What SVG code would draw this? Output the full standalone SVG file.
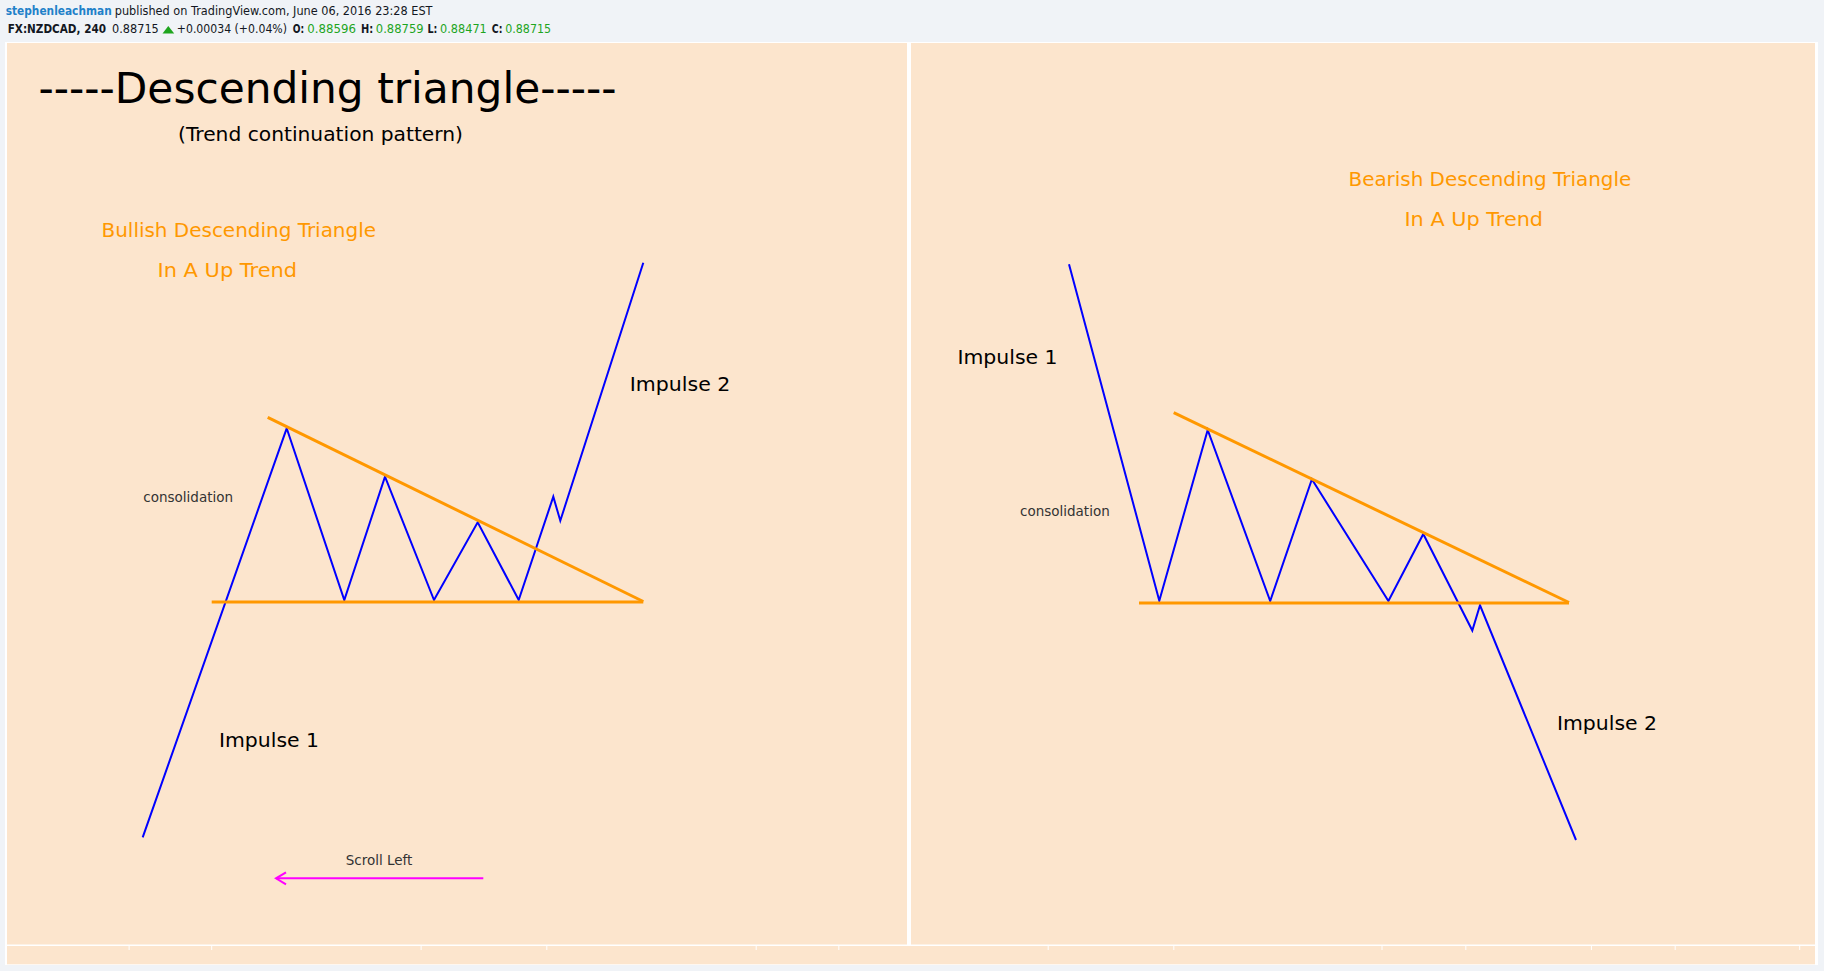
<svg xmlns="http://www.w3.org/2000/svg" width="1824" height="971" viewBox="0 0 1824 971">
<defs>
<style>
.hdr{font-family:"DejaVu Sans","Liberation Sans",sans-serif;font-size:11.5px;fill:#131722}
.b{font-weight:bold}
.g{fill:#1ea51e}
.lbl{font-family:"DejaVu Sans","Liberation Sans",sans-serif;font-size:20px;fill:#000}
.org{font-family:"DejaVu Sans","Liberation Sans",sans-serif;font-size:20px;fill:#ff9800}
.small{font-family:"DejaVu Sans","Liberation Sans",sans-serif;font-size:13.5px;fill:#333}
.price{fill:none;stroke:#0000ff;stroke-width:2;stroke-linejoin:miter}
.trend{fill:none;stroke:#ff9800;stroke-width:3}
.tick{stroke:#fff;stroke-width:1}
</style>
<marker id="openArrow" markerWidth="14" markerHeight="16" refX="11" refY="8" orient="auto" markerUnits="userSpaceOnUse">
<path d="M1,2 L11,8 L1,14" fill="none" stroke="#ff00ff" stroke-width="2"/>
</marker>
</defs>
<rect x="0" y="0" width="1824" height="971" fill="#f0f3f7"/>
<g id="header">
<text class="hdr b" x="5.7" y="15" style="fill:#1f81c9" textLength="106" lengthAdjust="spacingAndGlyphs">stephenleachman</text>
<text class="hdr" x="114.8" y="15" textLength="317.7" lengthAdjust="spacingAndGlyphs">published on TradingView.com, June 06, 2016 23:28 EST</text>
<text class="hdr b" x="7.7" y="33.3" textLength="98.3" lengthAdjust="spacingAndGlyphs">FX:NZDCAD, 240</text>
<text class="hdr" x="112" y="33.3" textLength="46.8" lengthAdjust="spacingAndGlyphs">0.88715</text>
<polygon points="168.3,26 174.2,33.4 162.5,33.4" fill="#1ea51e"/>
<text class="hdr" x="176.8" y="33.3" textLength="110.2" lengthAdjust="spacingAndGlyphs">+0.00034 (+0.04%)</text>
<text class="hdr b" x="292.8" y="33.3" textLength="11.4" lengthAdjust="spacingAndGlyphs">O:</text>
<text class="hdr g" x="307.3" y="33.3" textLength="48.6" lengthAdjust="spacingAndGlyphs">0.88596</text>
<text class="hdr b" x="360.9" y="33.3" textLength="12.2" lengthAdjust="spacingAndGlyphs">H:</text>
<text class="hdr g" x="375.8" y="33.3" textLength="47.8" lengthAdjust="spacingAndGlyphs">0.88759</text>
<text class="hdr b" x="427.5" y="33.3" textLength="9.9" lengthAdjust="spacingAndGlyphs">L:</text>
<text class="hdr g" x="440.1" y="33.3" textLength="46.7" lengthAdjust="spacingAndGlyphs">0.88471</text>
<text class="hdr b" x="491.8" y="33.3" textLength="10.7" lengthAdjust="spacingAndGlyphs">C:</text>
<text class="hdr g" x="505.2" y="33.3" textLength="45.9" lengthAdjust="spacingAndGlyphs">0.88715</text>
</g>
<g id="frame">
<rect x="5" y="42" width="1813" height="923" fill="#ffffff"/>
<rect id="left-panel" x="7" y="43" width="900" height="901.5" fill="#fce5cd"/>
<rect id="right-panel" x="911" y="43" width="904" height="901.5" fill="#fce5cd"/>
<rect id="time-axis" x="7" y="946" width="1808" height="18.3" fill="#fce5cd"/>
<g id="ticks">
<line class="tick" x1="129.1" y1="946" x2="129.1" y2="950"/>
<line class="tick" x1="211.7" y1="946" x2="211.7" y2="950"/>
<line class="tick" x1="421.1" y1="946" x2="421.1" y2="950"/>
<line class="tick" x1="546.8" y1="946" x2="546.8" y2="950"/>
<line class="tick" x1="756.2" y1="946" x2="756.2" y2="950"/>
<line class="tick" x1="838.8" y1="946" x2="838.8" y2="950"/>
<line class="tick" x1="1048.2" y1="946" x2="1048.2" y2="950"/>
<line class="tick" x1="1173.8" y1="946" x2="1173.8" y2="950"/>
<line class="tick" x1="1382" y1="946" x2="1382" y2="950"/>
<line class="tick" x1="1465.8" y1="946" x2="1465.8" y2="950"/>
<line class="tick" x1="1591.4" y1="946" x2="1591.4" y2="950"/>
<line class="tick" x1="1675.2" y1="946" x2="1675.2" y2="950"/>
<line class="tick" x1="1799.7" y1="946" x2="1799.7" y2="950"/>
</g>
</g>
<g id="titles">
<text id="title" x="38.5" y="102.5" font-family="DejaVu Sans, Liberation Sans, sans-serif" font-size="42" fill="#000" textLength="578" lengthAdjust="spacingAndGlyphs">-----Descending triangle-----</text>
<text id="subtitle" x="178" y="141" font-family="DejaVu Sans, Liberation Sans, sans-serif" font-size="20" fill="#000" textLength="285" lengthAdjust="spacingAndGlyphs">(Trend continuation pattern)</text>
</g>
<g id="connectors">
<polyline id="left-price" class="price" points="142.7,837.3 286.7,428.3 344.3,600 385,476.7 434,600 477.7,522.3 518.7,600 553.3,496.7 560.3,520.7 643.3,262.7"/>
<line id="left-support" class="trend" x1="211.7" y1="602" x2="643.3" y2="602"/>
<line id="left-resistance" class="trend" x1="267.7" y1="417.3" x2="643.3" y2="601.5"/>
<polyline id="right-price" class="price" points="1069,264.3 1159.3,600.7 1207.7,430 1270.2,601 1311.9,479.3 1388.4,601 1423.3,534 1472.3,630.5 1480,605.3 1576,840"/>
<line id="right-support" class="trend" x1="1139" y1="603" x2="1569" y2="603"/>
<line id="right-resistance" class="trend" x1="1173.7" y1="412.7" x2="1569" y2="602.5"/>
<line id="scroll-arrow" x1="483.3" y1="878.3" x2="276" y2="878.3" stroke="#ff00ff" stroke-width="2" marker-end="url(#openArrow)"/>
</g>
<g id="left-labels">
<text id="bullish-1" class="org" x="101.5" y="237.3" textLength="274.5" lengthAdjust="spacingAndGlyphs">Bullish Descending Triangle</text>
<text id="bullish-2" class="org" x="157.5" y="277.3" textLength="139.6" lengthAdjust="spacingAndGlyphs">In A Up Trend</text>
<text id="left-impulse2" class="lbl" x="629.8" y="390.7" textLength="100.5" lengthAdjust="spacingAndGlyphs">Impulse 2</text>
<text id="left-impulse1" class="lbl" x="219" y="746.7" textLength="100" lengthAdjust="spacingAndGlyphs">Impulse 1</text>
<text id="left-consolidation" class="small" x="143.3" y="501.7">consolidation</text>
<text id="scroll-left" class="small" x="345.7" y="865">Scroll Left</text>
</g>
<g id="right-labels">
<text id="bearish-1" class="org" x="1348.5" y="185.7" textLength="282.7" lengthAdjust="spacingAndGlyphs">Bearish Descending Triangle</text>
<text id="bearish-2" class="org" x="1404.5" y="225.7" textLength="138.5" lengthAdjust="spacingAndGlyphs">In A Up Trend</text>
<text id="right-impulse1" class="lbl" x="957.5" y="364" textLength="100" lengthAdjust="spacingAndGlyphs">Impulse 1</text>
<text id="right-impulse2" class="lbl" x="1557" y="730" textLength="100" lengthAdjust="spacingAndGlyphs">Impulse 2</text>
<text id="right-consolidation" class="small" x="1020" y="515.5">consolidation</text>
</g>
</svg>
